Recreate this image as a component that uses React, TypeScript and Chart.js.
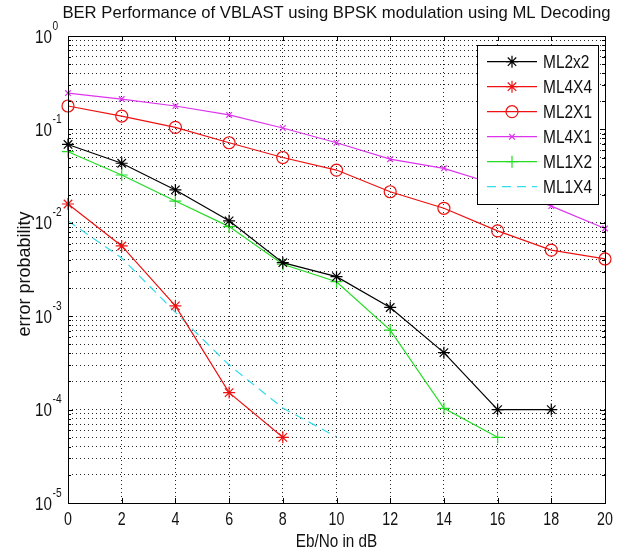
import React, { useEffect, useRef } from 'react';
import { Chart, registerables } from 'chart.js';
import { drawPoint } from 'chart.js/helpers';

Chart.register(...registerables);

// ---- data ----
const ebNo = [0, 2, 4, 6, 8, 10, 12, 14, 16, 18, 20];
const ml2x2 = [0.069, 0.0434, 0.0225, 0.0105, 0.00374, 0.00265, 0.00124, 0.000407, 0.0001, 0.0001];
const ml4x4 = [0.0159, 0.00565, 0.00129, 0.000152, 0.0000505];
const ml2x1 = [0.178, 0.139, 0.105, 0.072, 0.05, 0.0367, 0.0215, 0.0143, 0.0082, 0.0051, 0.0041];
const ml4x1 = [0.245, 0.211, 0.178, 0.143, 0.1035, 0.072, 0.048, 0.0383, 0.0254, 0.0151, 0.0087];
const ml1x2 = [0.0577, 0.0325, 0.0171, 0.0091, 0.0036, 0.00234, 0.00071, 0.000103, 0.0000505];
const ml1x4 = [0.0105, 0.0042, 0.0011, 0.0003, 0.000104, 0.000051];

const seriesNames = ['ML2x2', 'ML4X4', 'ML2X1', 'ML4X1', 'ML1X2', 'ML1X4'];
const xTickValues = [0, 2, 4, 6, 8, 10, 12, 14, 16, 18, 20];
const yExponents = [0, -1, -2, -3, -4, -5];
const yMinorFactors = [2, 3, 4, 5, 6, 7, 8, 9];

const titleText = 'BER Performance of VBLAST using BPSK modulation using ML Decoding';
const xTitleText = 'Eb/No in dB';
const yTitleText = 'error probability';

const FONT = '"Liberation Sans", Arial, Helvetica, sans-serif';
const SX = 0.85;

function pts(vals: number[]) {
  return vals.map((v, i) => ({ x: ebNo[i], y: v }));
}

function txt(
  ctx: CanvasRenderingContext2D,
  s: string,
  x: number,
  y: number,
  size: number,
  align: 'left' | 'center' | 'right',
  sx = SX
) {
  ctx.save();
  ctx.font = `${size}px ${FONT}`;
  ctx.textBaseline = 'alphabetic';
  ctx.textAlign = 'left';
  const w = ctx.measureText(s).width * sx;
  const left = align === 'left' ? x : align === 'center' ? x - w / 2 : x - w;
  ctx.translate(left, y);
  ctx.scale(sx, 1);
  ctx.fillStyle = '#111';
  ctx.fillText(s, 0, 0);
  ctx.restore();
  return w;
}

const decorPlugin = {
  id: 'decor',
  afterDraw(chart: any) {
    const ctx: CanvasRenderingContext2D = chart.ctx;
    const a = chart.chartArea;
    const xs = chart.scales.x;
    const ys = chart.scales.y;
    ctx.save();
    // box
    ctx.strokeStyle = '#000';
    ctx.lineWidth = 1;
    ctx.setLineDash([]);
    ctx.strokeRect(Math.round(a.left) + 0.5, Math.round(a.top) + 0.5, Math.round(a.right - a.left), Math.round(a.bottom - a.top));
    // inside ticks
    ctx.beginPath();
    xTickValues.forEach((v) => {
      const px = Math.round(xs.getPixelForValue(v)) + 0.5;
      ctx.moveTo(px, a.bottom);
      ctx.lineTo(px, a.bottom - 5);
      ctx.moveTo(px, a.top);
      ctx.lineTo(px, a.top + 5);
    });
    yExponents.forEach((e) => {
      const base = Math.pow(10, e);
      const py = Math.round(ys.getPixelForValue(base)) + 0.5;
      ctx.moveTo(a.left, py);
      ctx.lineTo(a.left + 5, py);
      ctx.moveTo(a.right, py);
      ctx.lineTo(a.right - 5, py);
      if (e > -5) {
        yMinorFactors.forEach((f) => {
          const vy = Math.round(ys.getPixelForValue(base * f / 10)) + 0.5;
          ctx.moveTo(a.left, vy);
          ctx.lineTo(a.left + 3, vy);
          ctx.moveTo(a.right, vy);
          ctx.lineTo(a.right - 3, vy);
        });
      }
    });
    ctx.stroke();

    // y tick labels 10^n
    yExponents.forEach((e) => {
      const py = ys.getPixelForValue(Math.pow(10, e));
      txt(ctx, '10', 52, py + 6.5, 19, 'right', 0.8);
      txt(ctx, String(e), 52.5, py - 6.5, 12, 'left', 0.85);
    });
    // x tick labels
    xTickValues.forEach((v) => {
      txt(ctx, String(v), xs.getPixelForValue(v), 525, 19, 'center', 0.75);
    });
    // titles
    txt(ctx, titleText, (a.left + a.right) / 2, 18, 17, 'center', 0.98);
    txt(ctx, xTitleText, (a.left + a.right) / 2, 547, 18, 'center', 0.85);
    ctx.save();
    ctx.translate(30, 274);
    ctx.rotate(-Math.PI / 2);
    txt(ctx, yTitleText, 0, 0, 18, 'center', 1.0);
    ctx.restore();

    // legend
    const lx = 477.5, ly = 45.5, lw = 121, lh = 159;
    ctx.fillStyle = '#fff';
    ctx.fillRect(lx, ly, lw, lh);
    ctx.strokeStyle = '#000';
    ctx.lineWidth = 1;
    ctx.strokeRect(lx, ly, lw, lh);
    chart.data.datasets.forEach((ds: any, i: number) => {
      const cy = 61.7 + i * 25;
      ctx.save();
      ctx.strokeStyle = ds.borderColor;
      ctx.lineWidth = ds.borderWidth;
      ctx.setLineDash(ds.borderDash || []);
      ctx.beginPath();
      ctx.moveTo(487, cy);
      ctx.lineTo(537, cy);
      ctx.stroke();
      ctx.setLineDash([]);
      if (ds.pointRadius > 0) {
        ctx.strokeStyle = ds.pointBorderColor;
        ctx.fillStyle = ds.pointBackgroundColor;
        ctx.lineWidth = ds.pointBorderWidth;
        drawPoint(ctx, { pointStyle: ds.pointStyle, radius: ds.pointRadius, rotation: 0, borderWidth: ds.pointBorderWidth }, 512, cy);
      }
      ctx.restore();
      txt(ctx, ds.label, 543, cy + 6.5, 18, 'left', 0.86);
    });
    ctx.restore();
  },
};

function mk(label: string, vals: number[], color: string, style: any, radius: number, extra: any = {}) {
  return {
    label,
    data: pts(vals),
    borderColor: color,
    backgroundColor: color,
    borderWidth: 1.2,
    pointStyle: style,
    pointRadius: radius,
    pointBorderColor: color,
    pointBackgroundColor: style === 'circle' ? 'rgba(0,0,0,0)' : color,
    pointBorderWidth: 1.2,
    pointHoverRadius: radius,
    clip: false,
    ...extra,
  };
}

export default function App() {
  const ref = useRef<HTMLCanvasElement | null>(null);
  useEffect(() => {
    document.body.style.margin = '0';
    const canvas = ref.current!;
    const chart = new Chart(canvas, {
      type: 'line',
      data: {
        datasets: [
          mk(seriesNames[0], ml2x2, '#000000', 'star', 6),
          mk(seriesNames[1], ml4x4, '#ee1111', 'star', 6),
          mk(seriesNames[2], ml2x1, '#ee1111', 'circle', 6),
          mk(seriesNames[3], ml4x1, '#dd33ee', 'crossRot', 4),
          mk(seriesNames[4], ml1x2, '#22dd22', 'cross', 6),
          mk(seriesNames[5], ml1x4, '#33ddee', 'circle', 0, { borderDash: [9, 6] }),
        ],
      },
      options: {
        responsive: false,
        animation: false,
        events: [],
        layout: { padding: { top: 36, left: 0, right: 12, bottom: 0 } },
        plugins: { legend: { display: false }, tooltip: { enabled: false }, title: { display: false } },
        scales: {
          x: {
            type: 'linear',
            min: 0,
            max: 20,
            ticks: { stepSize: 2, display: false },
            grid: { color: 'rgba(0,0,0,0.85)', lineWidth: 1, drawTicks: false },
            border: { display: false, dash: [1, 3] },
            afterFit: (s: any) => { s.height = 48; },
          },
          y: {
            type: 'logarithmic',
            min: 1e-5,
            max: 1,
            ticks: { display: false, autoSkip: false },
            grid: { color: 'rgba(0,0,0,0.85)', lineWidth: 1, drawTicks: false },
            border: { display: false, dash: [1, 3] },
            afterBuildTicks: (s: any) => {
              const t: any[] = [];
              yExponents.slice().reverse().forEach((e) => {
                const base = Math.pow(10, e);
                t.push({ value: base });
                if (e < 0) yMinorFactors.forEach((f) => t.push({ value: base * f }));
              });
              s.ticks = t;
            },
            afterFit: (s: any) => { s.width = 68; },
          },
        },
      } as any,
      plugins: [decorPlugin],
    });
    return () => chart.destroy();
  }, []);
  return <canvas ref={ref} width={617} height={551} style={{ display: 'block' }} />;
}
